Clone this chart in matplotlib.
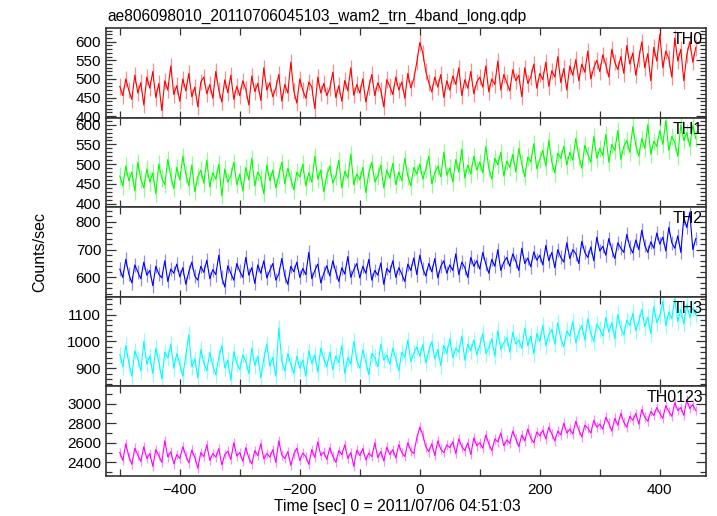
import numpy as np
import matplotlib
matplotlib.use("Agg")
import matplotlib.pyplot as plt
from matplotlib.ticker import MultipleLocator

plt.rcParams['font.family'] = ['Liberation Sans', 'DejaVu Sans']

title = "ae806098010_20110706045103_wam2_trn_4band_long.qdp"
xlabel = "Time [sec] 0 = 2011/07/06 04:51:03"
ylabel = "Counts/sec"
band_names = ["TH0", "TH1", "TH2", "TH3", "TH0123"]
band_colors = ["#ff0000", "#00ff00", "#0000ff", "#00ffff", "#ff00ff"]

# time bins (sec), 5 s sampling from -500 to 460
time = np.arange(-500, 461, 5)

th0 = [480, 455, 500, 470, 445, 510, 462, 490, 430, 505,
       475, 520, 450, 488, 415, 495, 470, 535, 458, 482,
       440, 500, 468, 515, 452, 478, 425, 492, 505, 460,
       485, 448, 520, 470, 438, 498, 463, 510, 445, 480,
       455, 495, 472, 430, 508, 466, 488, 442, 530, 470,
       490, 452, 475, 512, 440, 485, 462, 545, 468, 435,
       500, 470, 448, 492, 478, 420, 505, 462, 488, 455,
       475, 518, 450, 482, 440, 496, 468, 530, 456, 485,
       462, 500, 438, 478, 512, 455, 490, 470, 425, 498,
       480, 458, 505, 470, 492, 448, 515, 476, 500, 545,
       598, 570, 520, 490, 465, 505, 478, 512, 450, 495,
       470, 508, 485, 530, 455, 498, 475, 520, 460, 492,
       505, 478, 535, 465, 500, 485, 548, 470, 512, 490,
       468, 525, 495, 510, 452, 530, 488, 505, 540, 475,
       515, 498, 545, 480, 522, 505, 560, 490, 528, 470,
       535, 510, 552, 495, 540, 518, 575, 500, 530, 550,
       520, 565, 538, 505, 580, 545, 525, 560, 515, 590,
       540, 570, 510, 555, 600, 530, 568, 495, 585, 548,
       620, 530, 575, 555, 505, 610, 548, 580, 495, 565,
       600, 545, 585]

th1 = [470, 445, 495, 458, 480, 432, 505, 462, 440, 488,
       455, 478, 425, 500, 465, 448, 512, 470, 438, 492,
       460, 520, 475, 445, 498, 430, 468, 485, 452, 510,
       442, 478, 462, 500, 420, 488, 455, 470, 505, 448,
       475, 432, 492, 460, 515, 445, 480, 465, 425, 498,
       458, 485, 440, 472, 505, 450, 490, 462, 435, 480,
       468, 500, 445, 478, 455, 520, 462, 485, 430, 472,
       495, 452, 470, 510, 440, 482, 465, 525, 448, 475,
       460, 492, 428, 478, 505, 455, 470, 498, 440, 485,
       465, 502, 448, 480, 458, 515, 470, 445, 492, 475,
       500, 462, 488, 520, 450, 478, 495, 468, 530, 472,
       490, 455, 512, 480, 538, 465, 498, 475, 520, 485,
       505, 478, 545, 490, 462, 515, 498, 530, 470, 508,
       492, 525, 480, 540, 500, 468, 518, 505, 552, 488,
       512, 535, 495, 560, 505, 478, 528, 515, 545, 498,
       530, 510, 565, 520, 490, 548, 525, 505, 570, 515,
       540, 522, 575, 505, 550, 535, 585, 512, 545, 560,
       530, 595, 548, 520, 565, 540, 600, 525, 558, 545,
       585, 550, 610, 535, 570, 555, 520, 600, 560, 580,
       545, 598, 565]

th2 = [630, 600, 665, 612, 580, 645, 620, 595, 655, 608,
       625, 570, 640, 612, 598, 660, 585, 630, 615, 648,
       602, 635, 575, 620, 655, 605, 590, 640, 618, 662,
       595, 628, 610, 680, 600, 565, 642, 615, 590, 650,
       622, 600, 672, 608, 635, 578, 645, 615, 660, 598,
       625, 650, 590, 612, 668, 605, 575, 640, 620, 655,
       600, 632, 610, 690, 595, 625, 648, 580, 615, 642,
       605, 660, 620, 585, 635, 612, 675, 600, 628, 650,
       598, 640, 615, 665, 590, 625, 608, 652, 575, 632,
       618, 660, 600, 635, 612, 585, 648, 625, 670, 610,
       680, 632, 605, 650, 620, 668, 598, 640, 660, 615,
       645, 625, 685, 610, 655, 635, 600, 672, 640, 660,
       630, 690, 648, 615, 665, 640, 700, 625, 655, 672,
       640, 685, 658, 625, 705, 650, 670, 638, 692, 662,
       680, 645, 715, 660, 690, 635, 700, 672, 655, 725,
       668, 700, 685, 650, 730, 690, 672, 710, 660, 745,
       695, 712, 680, 740, 700, 668, 725, 705, 690, 755,
       710, 688, 735, 700, 770, 715, 690, 728, 705, 760,
       720, 745, 695, 780, 725, 705, 750, 690, 815, 780,
       835, 700, 740]

th3 = [950, 905, 985, 920, 870, 965, 935, 890, 1000, 915,
       945, 880, 975, 925, 860, 960, 938, 990, 900, 955,
       915, 870, 948, 1025, 905, 935, 865, 970, 920, 890,
       958, 910, 875, 940, 985, 900, 930, 855, 962, 918,
       895, 950, 925, 880, 975, 910, 945, 865, 935, 990,
       908, 940, 870, 1050, 925, 890, 955, 915, 880, 945,
       900, 930, 870, 965, 918, 950, 885, 975, 935, 905,
       960, 895, 945, 920, 985, 880, 940, 915, 1000, 930,
       900, 968, 925, 875, 955, 940, 905, 990, 930, 950,
       915, 975, 935, 890, 960, 940, 1005, 925, 955, 980,
       945, 990, 920, 965, 1000, 935, 970, 910, 985, 955,
       1010, 940, 975, 960, 1020, 930, 990, 965, 1005, 950,
       985, 1030, 955, 975, 1010, 945, 1040, 970, 995, 1015,
       960, 1035, 990, 1005, 975, 1050, 985, 1020, 955, 1030,
       1000, 1060, 985, 1025, 1045, 990, 1070, 1010, 980, 1040,
       1020, 1075, 995, 1035, 1060, 1005, 1085, 1030, 1000, 1065,
       1045, 1020, 1090, 1035, 1070, 1010, 1100, 1050, 1025, 1080,
       1060, 1105, 1040, 1075, 1120, 1055, 1090, 1030, 1130, 1070,
       1095, 1150, 1060, 1110, 1085, 1160, 1075, 1120, 1065, 1140,
       1090, 1125, 1100]

th0123 = [2500, 2420, 2590, 2460, 2380, 2545, 2475, 2410, 2560, 2440,
          2490, 2360, 2530, 2470, 2400, 2620, 2455, 2510, 2385, 2480,
          2440, 2560, 2470, 2395, 2525, 2450, 2340, 2500, 2460, 2580,
          2420, 2490, 2455, 2540, 2375, 2480, 2515, 2430, 2600, 2465,
          2500, 2410, 2550, 2445, 2385, 2520, 2470, 2590, 2435, 2490,
          2455, 2530, 2400, 2620, 2475, 2440, 2510, 2370, 2485, 2545,
          2420, 2495, 2460, 2380, 2530, 2450, 2610, 2470, 2505, 2430,
          2550, 2465, 2400, 2520, 2480, 2580, 2440, 2500, 2360, 2525,
          2470, 2540, 2425, 2495, 2460, 2600, 2450, 2510, 2415, 2555,
          2480, 2530, 2445, 2580, 2500, 2460, 2600, 2520, 2490, 2650,
          2760, 2680, 2560, 2510, 2590, 2470, 2620, 2535, 2500, 2580,
          2550, 2610, 2490, 2640, 2560, 2520, 2600, 2480, 2650, 2570,
          2600, 2545, 2680, 2590, 2520, 2640, 2610, 2700, 2570, 2630,
          2595, 2720, 2640, 2560, 2680, 2620, 2740, 2650, 2600, 2710,
          2670, 2730, 2640, 2760, 2690, 2620, 2720, 2680, 2800, 2700,
          2740, 2690, 2820, 2730, 2660, 2780, 2750, 2700, 2830, 2760,
          2790, 2740, 2860, 2800, 2720, 2850, 2780, 2900, 2810, 2760,
          2870, 2830, 2900, 2790, 2940, 2860, 2820, 2920, 2880, 2960,
          2900, 2850, 2980, 2920, 2870, 3010, 2930, 2960, 2880, 3040,
          2950, 2990, 2930]

# typical error-bar half-lengths (counts/sec)
band_errors = [22, 22, 25, 31, 50]

series = [th0, th1, th2, th3, th0123]
ylims = [(396, 637), (391, 618), (530, 853), (832, 1167), (2261, 3176)]
ymajor = [50, 50, 100, 100, 200]
yminor = [10, 10, 20, 20, 100]

W, H = 717, 516
fig = plt.figure(figsize=(W / 100, H / 100), dpi=100)
left, right = 106 / W, 706 / W
top, bottom = 1 - 28 / H, 1 - 476 / H
axes = fig.subplots(5, 1, sharex=True)
fig.subplots_adjust(left=left, right=right, top=top, bottom=bottom, hspace=0)

for ax, y, name, col, err, yl, ma, mi in zip(axes, series, band_names, band_colors,
                                              band_errors, ylims, ymajor, yminor):
    ax.errorbar(time, y, yerr=err, fmt='none', ecolor=col, elinewidth=0.9,
                alpha=0.45, capsize=0)
    ax.plot(time, y, color=col, lw=0.8)
    ax.set_xlim(-523, 477)
    ax.set_ylim(*yl)
    ax.yaxis.set_major_locator(MultipleLocator(ma))
    ax.yaxis.set_minor_locator(MultipleLocator(mi))
    ax.xaxis.set_major_locator(MultipleLocator(200))
    ax.xaxis.set_minor_locator(MultipleLocator(100))
    ax.tick_params(axis='both', which='both', direction='in', top=True, right=True,
                   labelsize=11, color='#333333', width=0.9)
    ax.tick_params(axis='y', which='major', length=7)
    ax.tick_params(axis='y', which='minor', length=4)
    ax.tick_params(axis='x', which='both', length=5, pad=5)
    for s in ax.spines.values():
        s.set_linewidth(1.2)
        s.set_color('#333333')
    ax.text(0.995, 0.955, name, transform=ax.transAxes, ha='right', va='top',
            fontsize=11.5)

axes[-1].set_xlabel(xlabel, fontsize=11.3)
axes[-1].xaxis.set_label_coords((397 - 106) / 600, -0.262)
fig.text(40 / W, (top + bottom) / 2, ylabel, rotation=90, ha='center', va='center',
         fontsize=11.5)
fig.text(107 / W, 1 - 21 / H, title, ha='left', va='baseline', fontsize=11.2)

fig.savefig("out.png", dpi=100)
